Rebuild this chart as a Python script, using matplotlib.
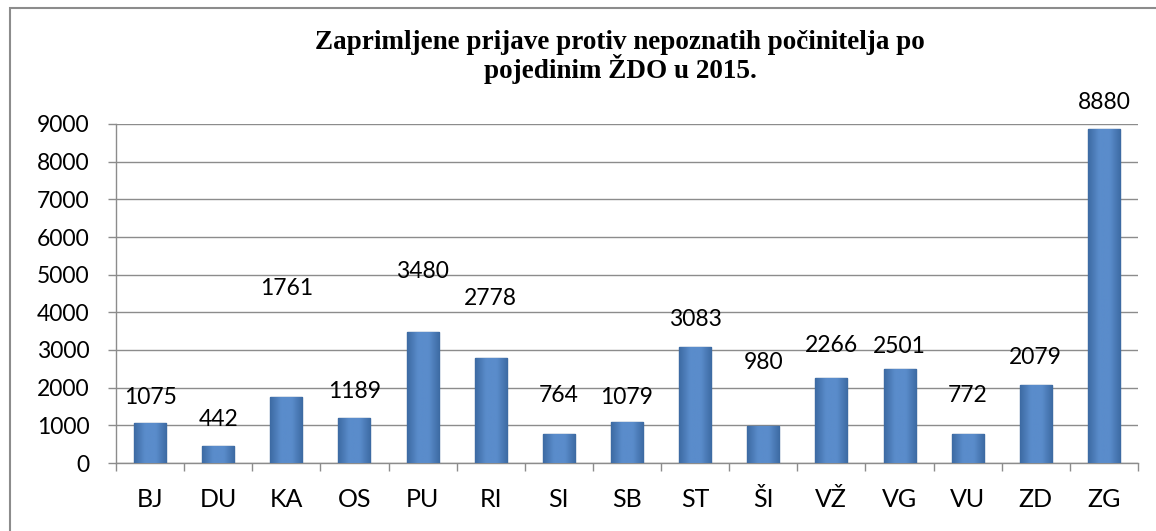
import numpy as np
import matplotlib
matplotlib.use('Agg')
import matplotlib.pyplot as plt
from matplotlib.patches import Rectangle
from matplotlib.colors import LinearSegmentedColormap

# Data
categories = ['BJ', 'DU', 'KA', 'OS', 'PU', 'RI', 'SI', 'SB', 'ST', 'ŠI', 'VŽ', 'VG', 'VU', 'ZD', 'ZG']
values = [1075, 442, 1761, 1189, 3480, 2778, 764, 1079, 3083, 980, 2266, 2501, 772, 2079, 8880]
# where the (hand-moved) value labels sit, in data units
label_y = [1750, 1160, 4630, 1900, 5080, 4370, 1780, 1750, 3810, 2680, 3120, 3100, 1780, 2800, 9560]

title = 'Zaprimljene prijave protiv nepoznatih počinitelja po\npojedinim ŽDO u 2015.'

fig = plt.figure(figsize=(11.56, 5.31), dpi=100)
ax = fig.add_axes([116/1156, 68/531, 1022/1156, 339/531])

x = np.arange(len(categories))
bars = ax.bar(x, values, width=0.47, color='#4F81BD', edgecolor='#3B6496', linewidth=1.0, zorder=3)

# soft horizontal shading like the excel bevel
shade = LinearSegmentedColormap.from_list('shade', ['#3D6BA3', '#5A8CCB', '#5A8CCB', '#3D6BA3'])
grad = np.linspace(0, 1, 64).reshape(1, -1)
for b in bars:
    im = ax.imshow(grad, cmap=shade, aspect='auto', zorder=3.5,
                   extent=[b.get_x(), b.get_x() + b.get_width(), 0, b.get_height()])
    im.set_clip_path(b)

for xi, v, ly in zip(x, values, label_y):
    ax.text(xi, ly, str(v), ha='center', va='center', fontsize=16.5, family='Lato', zorder=4)

ax.set_xlim(-0.5, len(categories) - 0.5)
ax.set_ylim(0, 9000)
ax.set_yticks(np.arange(0, 9001, 1000))
ax.yaxis.grid(True, color='#8c8c8c', linewidth=1.0, zorder=0)

ax.set_xticks(x)
ax.set_xticklabels(categories)
ax.set_xticks(np.arange(-0.5, len(categories), 1), minor=True)
ax.tick_params(axis='x', which='major', length=0, pad=18, labelsize=18)
ax.tick_params(axis='x', which='minor', length=5.5, color='#8c8c8c', width=1)
ax.tick_params(axis='y', length=6, color='#8c8c8c', width=1, labelsize=16.5, pad=13)
for lbl in ax.get_yticklabels() + ax.get_xticklabels():
    lbl.set_family('Lato')

for s in ['top', 'right']:
    ax.spines[s].set_visible(False)
for s in ['left', 'bottom']:
    ax.spines[s].set_color('#8c8c8c')
    ax.spines[s].set_linewidth(1.0)

fig.text(620/1156, 1 - 57/531, title, ha='center', va='center', fontsize=19.5,
         fontweight='bold', family='Liberation Serif', linespacing=0.98)

# outer chart border (only top/left visible in the crop)
fig.patches.append(Rectangle((10/1156, -0.1), 1.2, 1 - 8/531 + 0.1, transform=fig.transFigure,
                             fill=False, edgecolor='#8c8c8c', linewidth=1.5))

fig.savefig('out.png', dpi=100)
